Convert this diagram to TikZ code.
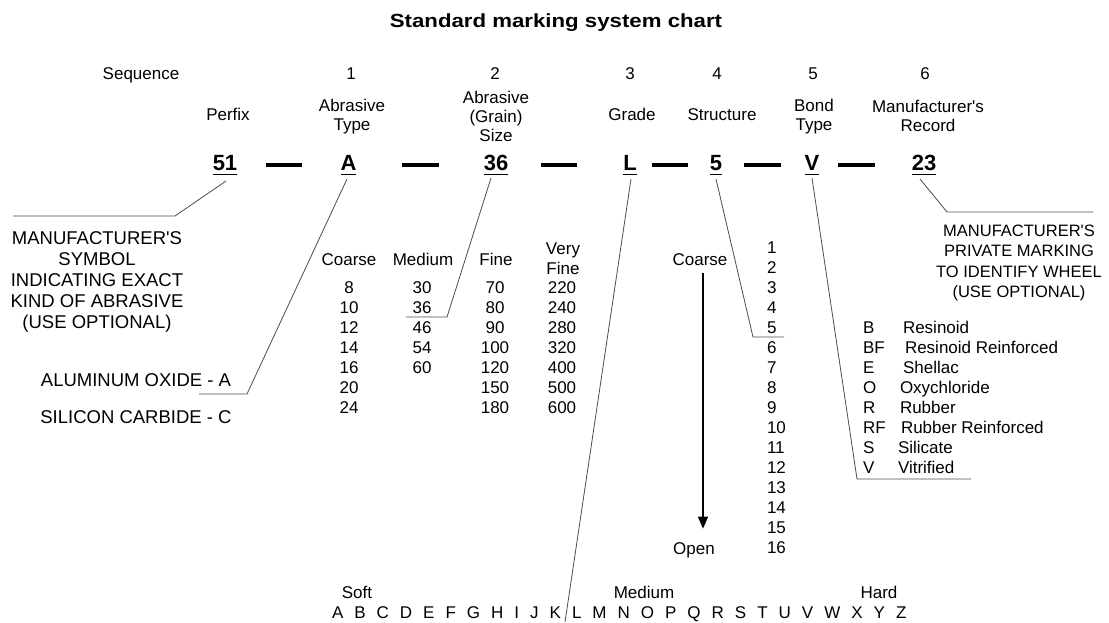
\documentclass[tikz,border=0pt]{standalone}
\usepackage{fontspec}
\setmainfont{Liberation Sans}
\usetikzlibrary{arrows.meta,calc}
\begin{document}
\begin{tikzpicture}[x=1pt,y=-1pt,
 every node/.style={inner sep=0pt,outer sep=0pt},
 titletxt/.style={font=\fontsize{19}{21}\bfseries\selectfont,anchor=base},
 hdr/.style={font=\fontsize{17}{19}\selectfont,align=center},
 hdrb/.style={font=\fontsize{17}{19}\selectfont,anchor=base},
 txt/.style={font=\fontsize{17}{20}\selectfont,align=center},
 txtb/.style={font=\fontsize{17}{20}\selectfont,anchor=base},
 lst/.style={font=\fontsize{17}{20}\selectfont,align=left,anchor=west},
 capL/.style={font=\fontsize{18.5}{21}\selectfont,align=center},
 capR/.style={font=\fontsize{16.5}{20.3}\selectfont,align=center},
 codetxt/.style={font=\fontsize{22}{24}\bfseries\selectfont,anchor=base},
 sepbar/.style={line width=3.6pt},
 uline/.style={line width=1.8pt},
 leader/.style={line width=0.8pt,draw=black!70},
 arr/.style={line width=1.6pt,-{Triangle[length=12pt,width=10pt]}},
]
\useasboundingbox (0,0) rectangle (1109,623);

% title
\node[titletxt] (title) at (556,28) {\scalebox{1.17}[1]{Standard marking system chart}};

% sequence row
\node[hdrb] (seq) at (141,80) {Sequence};
\node[hdrb] (s1) at (351,80) {1};
\node[hdrb] (s2) at (495,80) {2};
\node[hdrb] (s3) at (630,80) {3};
\node[hdrb] (s4) at (717,80) {4};
\node[hdrb] (s5) at (813,80) {5};
\node[hdrb] (s6) at (925,80) {6};

% headings
\node[hdrb] (perfix) at (228,121) {Perfix};
\node[hdr] (abtype) at (352,117) {Abrasive\\Type};
\node[hdr] (grain) at (496,116) {Abrasive\\(Grain)\\Size};
\node[hdrb] (grade) at (632,121) {Grade};
\node[hdrb] (struct) at (722,121) {Structure};
\node[hdr] (bond) at (814,117) {Bond\\Type};
\node[hdr] (record) at (928,115.5) {Manufacturer\textquotesingle s\\Record};

% marking codes
\node[codetxt] (c51) at (225,171) {51};
\node[codetxt] (cA) at (348.5,171) {A};
\node[codetxt] (c36) at (496,171) {36};
\node[codetxt] (cL) at (630,171) {L};
\node[codetxt] (c5) at (716,171) {5};
\node[codetxt] (cV) at (812,171) {V};
\node[codetxt] (c23) at (924,171) {23};
\foreach \n in {c51,cA,c36,cL,c5,cV,c23}
  \draw[uline] ($(\n.base west)+(0,3.5)$) -- ($(\n.base east)+(0,3.5)$);

% separator bars
\draw[sepbar] (266,165) -- (302,165);
\draw[sepbar] (402,165) -- (439,165);
\draw[sepbar] (541,165) -- (577,165);
\draw[sepbar] (652,165) -- (688,165);
\draw[sepbar] (744,165) -- (781,165);
\draw[sepbar] (838,165) -- (875,165);

% left captions
\node[capL] (mfrsym) at (97,282) {MANUFACTURER\textquotesingle S\\SYMBOL\\INDICATING EXACT\\KIND OF ABRASIVE\\(USE OPTIONAL)};
\node[capL] (alox) at (136,380) {ALUMINUM OXIDE - A};
\node[capL] (sic) at (136,417) {SILICON CARBIDE - C};

% right caption
\node[capR] (private) at (1019,263) {MANUFACTURER\textquotesingle S\\PRIVATE MARKING\\TO IDENTIFY WHEEL\\(USE OPTIONAL)};

% grain table
\node[txtb] (hcoarse) at (349,265) {Coarse};
\node[txtb] (hmedium) at (423,265) {Medium};
\node[txtb] (hfine) at (496,265) {Fine};
\node[txt] (hvfine) at (563,259) {Very\\Fine};
\node[txt] (colcoarse) at (349,348) {8\\10\\12\\14\\16\\20\\24};
\node[txt] (colmedium) at (422,328) {30\\36\\46\\54\\60};
\node[txt] (colfine) at (495,348) {70\\80\\90\\100\\120\\150\\180};
\node[txt] (colvfine) at (562,348) {220\\240\\280\\320\\400\\500\\600};

% structure
\node[txtb] (scoarse) at (700,265) {Coarse};
\node[txtb] (sopen) at (694,554) {Open};
\node[lst] (snums) at (767,398) {1\\2\\3\\4\\5\\6\\7\\8\\9\\10\\11\\12\\13\\14\\15\\16};
\coordinate (arrtop) at ($(scoarse.south)+(3,8)$);
\coordinate (arrbot) at (arrtop |- sopen.north);
\draw[arr] (arrtop) -- ($(arrbot)+(0,-13.5)$);

% bond list
\node[lst] (bcodes) at (863,397.5) {B\\BF\\E\\O\\R\\RF\\S\\V};
\node[lst] (bnames) at (898,397) {\hspace*{5pt}Resinoid\\\hspace*{7pt}Resinoid Reinforced\\\hspace*{5pt}Shellac\\\hspace*{2pt}Oxychloride\\\hspace*{2pt}Rubber\\\hspace*{3pt}Rubber Reinforced\\Silicate\\Vitrified};

% grade scale
\node[txtb] (soft) at (357,598) {Soft};
\node[txtb] (gmedium) at (644,598) {Medium};
\node[txtb] (hard) at (879,598) {Hard};
\node[font=\fontsize{17}{20}\selectfont,anchor=base west] (alpha) at (332,618)
  {\spaceskip=11pt\relax A B C D E F G H I J K L M N O P Q R S T U V W X Y Z};

% leader lines
\coordinate (k51) at (175,216); \coordinate (e51) at (13,216);
\coordinate (kA) at (247,394);  \coordinate (eA) at (199,394);
\coordinate (k36) at (447,317); \coordinate (e36) at (406,317);
\coordinate (eL) at (565,622);
\coordinate (k5) at (753,337);  \coordinate (e5) at (784,337);
\coordinate (kV) at (857,479);  \coordinate (eV) at (971,479);
\coordinate (k23) at (947,212); \coordinate (e23) at (1093,212);
\draw[leader] ($(c51.base)+(1,10)$) -- (k51) -- (e51);
\draw[leader] ($(cA.base)+(-1.5,8)$) -- (kA) -- (eA);
\draw[leader] ($(c36.base)+(-5,7)$) -- (k36) -- (e36);
\draw[leader] ($(cL.base)+(1,8)$) -- (eL);
\draw[leader] ($(c5.base)+(0,8)$) -- (k5) -- (e5);
\draw[leader] ($(cV.base)+(0,7)$) -- (kV) -- (eV);
\draw[leader] ($(c23.base)+(-4,8)$) -- (k23) -- (e23);
\end{tikzpicture}
\end{document}
